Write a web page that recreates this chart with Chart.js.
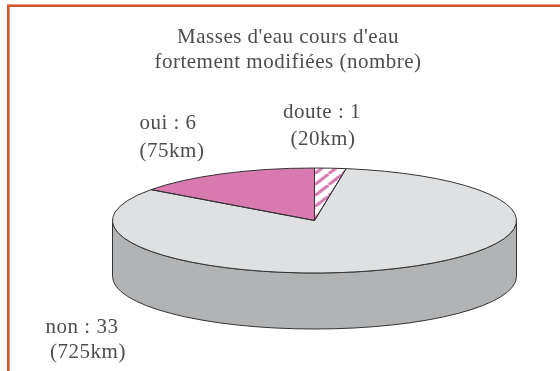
<!DOCTYPE html>
<html>
<head>
<meta charset="utf-8">
<style>
    html, body { margin: 0; padding: 0; background: #fff; overflow: hidden; }
    canvas { display: block; }
</style>
<script src="https://cdn.jsdelivr.net/npm/chart.js@4"></script>
</head>
<body>
<canvas id="chart" width="560" height="371"></canvas>
<script>
const categories = ['doute', 'non', 'oui'];
const counts = [1, 33, 6];
const titleLines = ["Masses d'eau cours d'eau", 'fortement modifiées (nombre)'];
const sliceLabels = [
    ['doute : 1', '(20km)'],
    ['non : 33', '(725km)'],
    ['oui : 6', '(75km)']
];

// where the slanted pie sits on the page
const view = { cx: 314.5, cy: 220.5, rx: 202, ry: 52.5, depth: 56 };
// one [x, baseline] for each line of sliceLabels
const labelPos = [
    [[322, 118], [323, 145]],
    [[82, 333], [88, 358]],
    [[168, 129], [172, 157]]
];
const textColor = '#4d4d4d';
const lineColor = '#333333';

// hatch tile for the small slice
const tile = document.createElement('canvas');
tile.width = 14;
tile.height = 11;
const t = tile.getContext('2d');
t.fillStyle = '#ffffff';
t.fillRect(0, 0, 14, 11);
t.strokeStyle = '#d87ab0';
t.lineWidth = 3;
[-14, 0, 14].forEach((dx) => {
    t.beginPath();
    t.moveTo(dx, 11);
    t.lineTo(dx + 14, 0);
    t.stroke();
});
const hatch = t.createPattern(tile, 'repeat');

const slantedPie = {
    id: 'slantedPie',
    beforeDraw(chart) {
        chart.ctx.letterSpacing = '0.5px';
    },
    beforeDatasetsDraw(chart) {
        const ctx = chart.ctx;
        const arc = chart.getDatasetMeta(0).data[0];
        const sx = view.rx / arc.outerRadius;
        const sy = view.ry / arc.outerRadius;

        // side wall
        ctx.save();
        ctx.beginPath();
        ctx.ellipse(view.cx, view.cy + view.depth, view.rx, view.ry, 0, 0, Math.PI);
        ctx.lineTo(view.cx - view.rx, view.cy);
        ctx.ellipse(view.cx, view.cy, view.rx, view.ry, 0, Math.PI, 0, true);
        ctx.closePath();
        ctx.fillStyle = '#b2b3b5';
        ctx.fill();
        ctx.strokeStyle = lineColor;
        ctx.lineWidth = 1;
        ctx.stroke();
        ctx.restore();

        // library draws the slices, squashed
        hatch.setTransform(new DOMMatrix().translate(arc.x, arc.y).scale(1 / sx, 1 / sy).translate(0, -2.5));
        ctx.save();
        ctx.translate(view.cx, view.cy);
        ctx.scale(sx, sy);
        ctx.translate(-arc.x, -arc.y);
    },
    afterDatasetsDraw(chart) {
        const ctx = chart.ctx;
        ctx.restore();

        // outlines, so the pen is not squashed too
        ctx.save();
        ctx.strokeStyle = lineColor;
        ctx.lineWidth = 1;
        chart.getDatasetMeta(0).data.forEach((arc) => {
            ctx.beginPath();
            ctx.moveTo(view.cx, view.cy);
            ctx.ellipse(view.cx, view.cy, view.rx, view.ry, 0, arc.startAngle, arc.endAngle);
            ctx.closePath();
            ctx.stroke();
        });
        ctx.restore();
    },
    afterDraw(chart) {
        const ctx = chart.ctx;
        ctx.save();

        // frame, top and left only
        ctx.fillStyle = '#e59a80';
        ctx.fillRect(7, 4, 553, 1);
        ctx.fillRect(9, 4, 1, 367);
        ctx.fillStyle = '#d2592b';
        ctx.fillRect(7, 5, 553, 2);
        ctx.fillRect(7, 5, 2, 366);

        ctx.font = '21px "Liberation Serif"';
        ctx.fillStyle = textColor;
        ctx.textAlign = 'center';
        ctx.textBaseline = 'alphabetic';
        sliceLabels.forEach((lines, i) => {
            lines.forEach((line, j) => {
                ctx.fillText(line, labelPos[i][j][0], labelPos[i][j][1]);
            });
        });
        ctx.restore();
    }
};

const ctx = document.getElementById('chart').getContext('2d');
const myChart = new Chart(ctx, {
    type: 'pie',
    data: {
        labels: categories,
        datasets: [{
            data: counts,
            backgroundColor: [hatch, '#dfe0e2', '#d87ab0'],
            borderWidth: 0
        }]
    },
    options: {
        responsive: false,
        animation: false,
        layout: { padding: { left: 16, top: 25 } },
        plugins: {
            legend: { display: false },
            tooltip: { enabled: false },
            title: {
                display: true,
                text: titleLines,
                color: textColor,
                font: { family: '"Liberation Serif"', size: 21, weight: 'normal', lineHeight: 1.19 },
                padding: 0
            }
        }
    },
    plugins: [slantedPie]
});
</script>
</body>
</html>
